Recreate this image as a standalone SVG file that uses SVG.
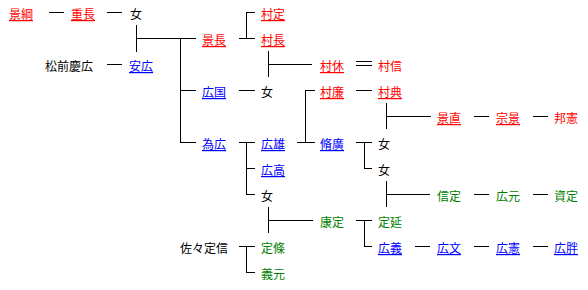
<svg xmlns="http://www.w3.org/2000/svg" width="588" height="290" viewBox="0 0 588 290">
<style>
text{font-family:"Noto Sans CJK JP","Noto Sans CJK SC",sans-serif;font-size:12px}
.r{fill:#ff0000}.b{fill:#0000ff}.k{fill:#000000}.g{fill:#008000}
.u{text-decoration:underline}
#connectors path{fill:none;stroke:#000;stroke-width:1;shape-rendering:crispEdges}
</style>
<rect width="588" height="290" fill="#ffffff"/>
<g id="connectors">
<path d="M49 12.5H64M107 12.5H122"/>
<path d="M136.5 25V52M136 38.5H196"/>
<path d="M107 64.5H122"/>
<path d="M180.5 38V143M180 90.5H196M180 142.5H196"/>
<path d="M239 38.5H255M246.5 38.5V12.5H255"/>
<path d="M268.5 51V77M268 64.5H312"/>
<path d="M356 61.5H372M356 65.5H372"/>
<path d="M239 90.5H255"/>
<path d="M297 142.5H315M305.5 142.5V90.5H315"/>
<path d="M239 142.5H255M246.5 142.5V194.5H255M246 168.5H255"/>
<path d="M356 90.5H372"/>
<path d="M386.5 103V129M386 116.5H431"/>
<path d="M474 116.5H489M533 116.5H548"/>
<path d="M356 142.5H372M364.5 142.5V168.5H372"/>
<path d="M386.5 181V207M386 194.5H430"/>
<path d="M474 194.5H489M533 194.5H548"/>
<path d="M268.5 207V233M268 220.5H313"/>
<path d="M356 220.5H372M364.5 220.5V246.5H372"/>
<path d="M415 246.5H430M474 246.5H489M533 246.5H548"/>
<path d="M239 246.5H255M246.5 246.5V272.5H255"/>
</g>
<g id="n-kagetsuna"><text x="9" y="19" class="r u">景綱</text></g>
<g id="n-shigenaga"><text x="71" y="19" class="r u">重長</text></g>
<g id="n-onna1"><text x="130" y="19" class="k">女</text></g>
<g id="n-matsumae"><text x="45" y="71" class="k">松前慶広</text></g>
<g id="n-yasuhiro"><text x="129" y="71" class="b u">安広</text></g>
<g id="n-kagenaga"><text x="202" y="45" class="r u">景長</text></g>
<g id="n-hirokuni"><text x="202" y="97" class="b u">広国</text></g>
<g id="n-tamehiro"><text x="202" y="149" class="b u">為広</text></g>
<g id="n-murasada"><text x="261" y="19" class="r u">村定</text></g>
<g id="n-muranaga"><text x="261" y="45" class="r u">村長</text></g>
<g id="n-onna2"><text x="261" y="97" class="k">女</text></g>
<g id="n-hirokatsu"><text x="261" y="149" class="b u">広雄</text></g>
<g id="n-hirotaka"><text x="261" y="175" class="b u">広高</text></g>
<g id="n-onna3"><text x="261" y="201" class="k">女</text></g>
<g id="n-murayasu"><text x="320" y="71" class="r u">村休</text></g>
<g id="n-murakado"><text x="320" y="97" class="r u">村廉</text></g>
<g id="n-hirotoo"><text x="320" y="149" class="b u">脩廣</text></g>
<g id="n-yasusada"><text x="320" y="227" class="g">康定</text></g>
<g id="n-sasa"><text x="180" y="253" class="k">佐々定信</text></g>
<g id="n-sadaeda"><text x="261" y="253" class="g">定條</text></g>
<g id="n-yoshimoto"><text x="261" y="279" class="g">義元</text></g>
<g id="n-muranobu"><text x="378" y="71" class="r">村信</text></g>
<g id="n-muranori"><text x="378" y="97" class="r u">村典</text></g>
<g id="n-onna4"><text x="378" y="149" class="k">女</text></g>
<g id="n-onna5"><text x="378" y="175" class="k">女</text></g>
<g id="n-sadanobu"><text x="378" y="227" class="g">定延</text></g>
<g id="n-hiroyoshi"><text x="378" y="253" class="b u">広義</text></g>
<g id="n-kagenao"><text x="437" y="123" class="r u">景直</text></g>
<g id="n-munekage"><text x="496" y="123" class="r u">宗景</text></g>
<g id="n-kuninori"><text x="554" y="123" class="r">邦憲</text></g>
<g id="n-nobusada"><text x="437" y="201" class="g">信定</text></g>
<g id="n-hiromoto"><text x="496" y="201" class="g">広元</text></g>
<g id="n-sukesada"><text x="554" y="201" class="g">資定</text></g>
<g id="n-hirofumi"><text x="437" y="253" class="b u">広文</text></g>
<g id="n-hironori"><text x="496" y="253" class="b u">広憲</text></g>
<g id="n-hirohiro"><text x="554" y="253" class="b u">広胖</text></g>
</svg>
